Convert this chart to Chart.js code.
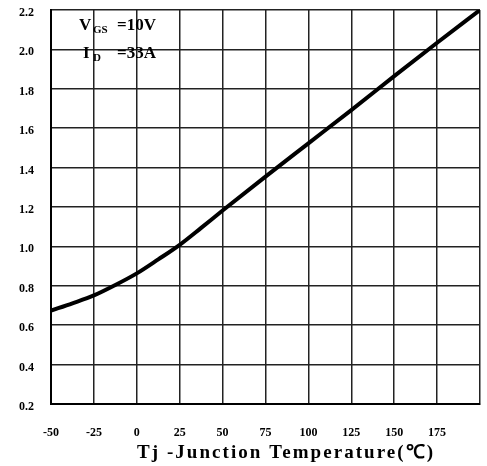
<!DOCTYPE html>
<html lang="en">
  <head>
    <meta charset="UTF-8" />
    <script src="https://cdn.jsdelivr.net/npm/chart.js@4.4.0/dist/chart.umd.min.js"></script>
    <title>Normalized On-Resistance vs Junction Temperature</title>
    <style>
      body { margin: 0; background: #fff; }
      .canvas-container { position: relative; width: 487px; height: 466px; }
    </style>
  </head>
  <body>
    <div class="canvas-container">
      <canvas id="myChart" width="487" height="466"></canvas>
    </div>

    <script>
      // values
      const temps = [-50, -37.5, -25, -12.5, 0, 12.5, 25, 37.5, 50, 75, 100, 125, 150, 175, 200];
      const rdson = [0.674, 0.711, 0.751, 0.804, 0.863, 0.934, 1.008, 1.094, 1.182, 1.354, 1.523, 1.692, 1.864, 2.034, 2.2];
      const xTicks = [-50, -25, 0, 25, 50, 75, 100, 125, 150, 175];
      const yTicks = [0.2, 0.4, 0.6, 0.8, 1.0, 1.2, 1.4, 1.6, 1.8, 2.0, 2.2];
      const xTitle = "Tj -Junction Temperature(\u2103)";

      const serif = "'Liberation Serif', 'Times New Roman', serif";

      const labels = {
        id: "labels",
        afterDraw(chart) {
          const ctx = chart.ctx;
          ctx.save();
          ctx.fillStyle = "#000";
          ctx.textBaseline = "alphabetic";
          ctx.textAlign = "left";
          // test conditions
          ctx.font = "bold 17px " + serif;
          ctx.fillText("V", 79, 30);
          ctx.fillText("I", 83, 58);
          ctx.font = "bold 11px " + serif;
          ctx.fillText("GS", 93, 33);
          ctx.fillText("D", 93, 61);
          ctx.font = "bold 17px " + serif;
          ctx.fillText("=10V", 117, 30);
          ctx.fillText("=33A", 117, 58);
          // axis title
          ctx.font = "bold 19px " + serif;
          const w = ctx.measureText(xTitle).width;
          const sp = Math.max(0, (296 - w) / (xTitle.length - 1));
          ctx.letterSpacing = sp.toFixed(2) + "px";
          ctx.fillText(xTitle, 137, 458);
          ctx.restore();
        },
      };

      chartIt();
      function chartIt() {
        const ctx = document.getElementById("myChart").getContext("2d");
        const points = temps.map((t, i) => ({ x: t, y: rdson[i] }));

        const myChart = new Chart(ctx, {
          type: "line",
          data: {
            datasets: [
              {
                data: points,
                borderColor: "#000",
                borderWidth: 4,
                pointRadius: 0,
                cubicInterpolationMode: "monotone",
              },
            ],
          },
          options: {
            responsive: false,
            animation: false,
            layout: { padding: { top: 10, right: 7, left: 0, bottom: 0 } },
            plugins: { legend: { display: false }, tooltip: { enabled: false } },
            scales: {
              x: {
                type: "linear",
                min: -50,
                max: 200,
                afterBuildTicks: (s) => { s.ticks = xTicks.concat([200]).map((v) => ({ value: v })); },
                afterFit: (s) => {
                  s.height = 62;
                  s.paddingLeft = 0;
                  s.paddingRight = 0;
                },
                border: { color: "#000", width: 2 },
                grid: { color: "#222", lineWidth: 1.5, drawTicks: false },
                ticks: {
                  padding: 22,
                  maxRotation: 0,
                  autoSkip: false,
                  color: "#000",
                  font: { family: serif, weight: "bold", size: 12 },
                  callback: (v) => (xTicks.includes(v) ? String(v) : ""),
                },
              },
              y: {
                min: 0.2,
                max: 2.2,
                afterBuildTicks: (s) => { s.ticks = yTicks.map((v) => ({ value: v })); },
                afterFit: (s) => {
                  s.width = 51;
                  s.paddingTop = 0;
                  s.paddingBottom = 0;
                },
                border: { color: "#000", width: 2 },
                grid: { color: "#222", lineWidth: 1.5, drawTicks: false },
                ticks: {
                  padding: 17,
                  labelOffset: 3,
                  color: "#000",
                  font: { family: serif, weight: "bold", size: 12 },
                  callback: (v) => v.toFixed(1),
                },
              },
            },
          },
          plugins: [labels],
        });
      }
    </script>
  </body>
</html>
